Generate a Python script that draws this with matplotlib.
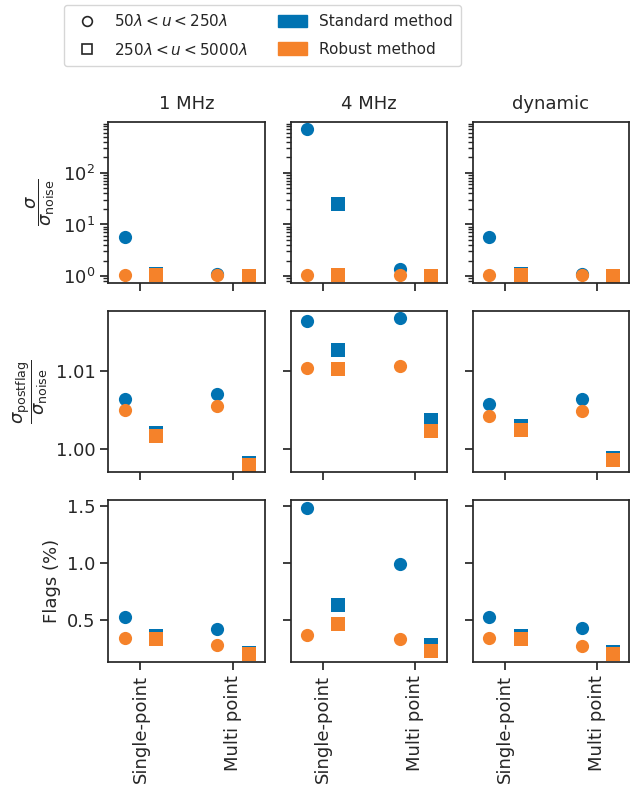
import numpy as np
import matplotlib
matplotlib.use("Agg")
import matplotlib.pyplot as plt
from matplotlib.lines import Line2D
from matplotlib.patches import Patch

# frequency resolution of the flagger (columns) and flagging strategy (x axis)
bands = ["1 MHz", "4 MHz", "dynamic"]
strategies = ["Single-point", "Multi point"]
uv_ranges = [r"$50\lambda < u < 250\lambda$", r"$250\lambda < u < 5000\lambda$"]
methods = ["Standard method", "Robust method"]

# values indexed as [band][strategy][uv range]
noise_ratio_standard = [
    [[5.6, 1.10], [1.10, 1.02]],
    [[707.0, 24.6], [1.37, 1.02]],
    [[5.6, 1.10], [1.09, 1.02]],
]
noise_ratio_robust = [
    [[1.03, 1.03], [1.03, 1.02]],
    [[1.03, 1.03], [1.03, 1.02]],
    [[1.03, 1.03], [1.03, 1.02]],
]
postflag_ratio_standard = [
    [[1.00641, 1.00203], [1.00705, 0.99825]],
    [[1.01645, 1.01270], [1.01676, 1.00376]],
    [[1.00572, 1.00300], [1.00637, 0.99880]],
]
postflag_ratio_robust = [
    [[1.00495, 1.00170], [1.00553, 0.99795]],
    [[1.01042, 1.01030], [1.01065, 1.00230]],
    [[1.00423, 1.00245], [1.00492, 0.99863]],
]
flags_standard = [
    [[0.526, 0.36], [0.427, 0.215]],
    [[1.489, 0.635], [0.997, 0.28]],
    [[0.529, 0.36], [0.430, 0.220]],
]
flags_robust = [
    [[0.346, 0.336], [0.284, 0.200]],
    [[0.374, 0.465], [0.338, 0.226]],
    [[0.347, 0.336], [0.277, 0.200]],
]

row_data = [
    (noise_ratio_standard, noise_ratio_robust),
    (postflag_ratio_standard, postflag_ratio_robust),
    (flags_standard, flags_robust),
]
row_labels = [
    r"$\dfrac{\sigma}{\sigma_{\rm noise}}$",
    r"$\dfrac{\sigma_{\rm postflag}}{\sigma_{\rm noise}}$",
    "Flags (%)",
]

colors = ["#0173b2", "#f5822a"]
markers = ["o", "s"]
offsets = [-0.17, 0.17]

dark = "#262626"
plt.rcParams.update({
    "font.family": "DejaVu Sans",
    "text.color": dark,
    "axes.labelcolor": dark,
    "axes.edgecolor": dark,
    "axes.linewidth": 1.25,
    "xtick.color": dark,
    "ytick.color": dark,
    "xtick.labelsize": 13,
    "ytick.labelsize": 13,
    "xtick.major.size": 6,
    "ytick.major.size": 6,
    "xtick.major.width": 1.25,
    "ytick.major.width": 1.25,
    "ytick.minor.size": 3.5,
    "ytick.minor.width": 1.0,
    "axes.labelsize": 13,
    "axes.titlesize": 13,
})

fig, axes = plt.subplots(3, 3, figsize=(6.3, 7.87), dpi=100, sharex=True, sharey="row")
fig.subplots_adjust(left=0.1722, right=0.9984, top=0.8454, bottom=0.1592,
                    wspace=0.166, hspace=0.174)

x = np.arange(len(strategies))
for r, (standard, robust) in enumerate(row_data):
    for c, band in enumerate(bands):
        ax = axes[r, c]
        for m, values in enumerate([standard, robust]):
            vals = np.array(values[c])  # [strategy][uv range]
            for k in range(len(uv_ranges)):
                ax.plot(x + offsets[k], vals[:, k], linestyle="none",
                        marker=markers[k], markersize=9.5, color=colors[m],
                        markeredgewidth=0)
        if r == 0:
            ax.set_yscale("log")
            ax.set_title(band, pad=9)
        ax.set_xlim(-0.345, 1.34)
        ax.set_xticks(x)
        ax.set_xticklabels(strategies, rotation=90)
    axes[r, 0].set_ylabel(row_labels[r])

axes[1, 0].set_yticks([1.00, 1.01])
axes[2, 0].set_yticks([0.5, 1.0, 1.5])

handles = [
    Line2D([], [], linestyle="none", marker="o", markersize=7,
           markerfacecolor="none", markeredgecolor=dark, markeredgewidth=1.2),
    Line2D([], [], linestyle="none", marker="s", markersize=7,
           markerfacecolor="none", markeredgecolor=dark, markeredgewidth=1.2),
    Patch(color=colors[0]),
    Patch(color=colors[1]),
]
fig.legend(handles, uv_ranges + methods, ncol=2, loc="upper left",
           bbox_to_anchor=(64 / 630, 1 - 5 / 787), borderaxespad=0,
           fontsize=11, handlelength=1.9, handleheight=0.9,
           columnspacing=2.0, borderpad=0.55, labelspacing=0.8,
           handletextpad=0.8)

fig.savefig("out.png", dpi=100)
